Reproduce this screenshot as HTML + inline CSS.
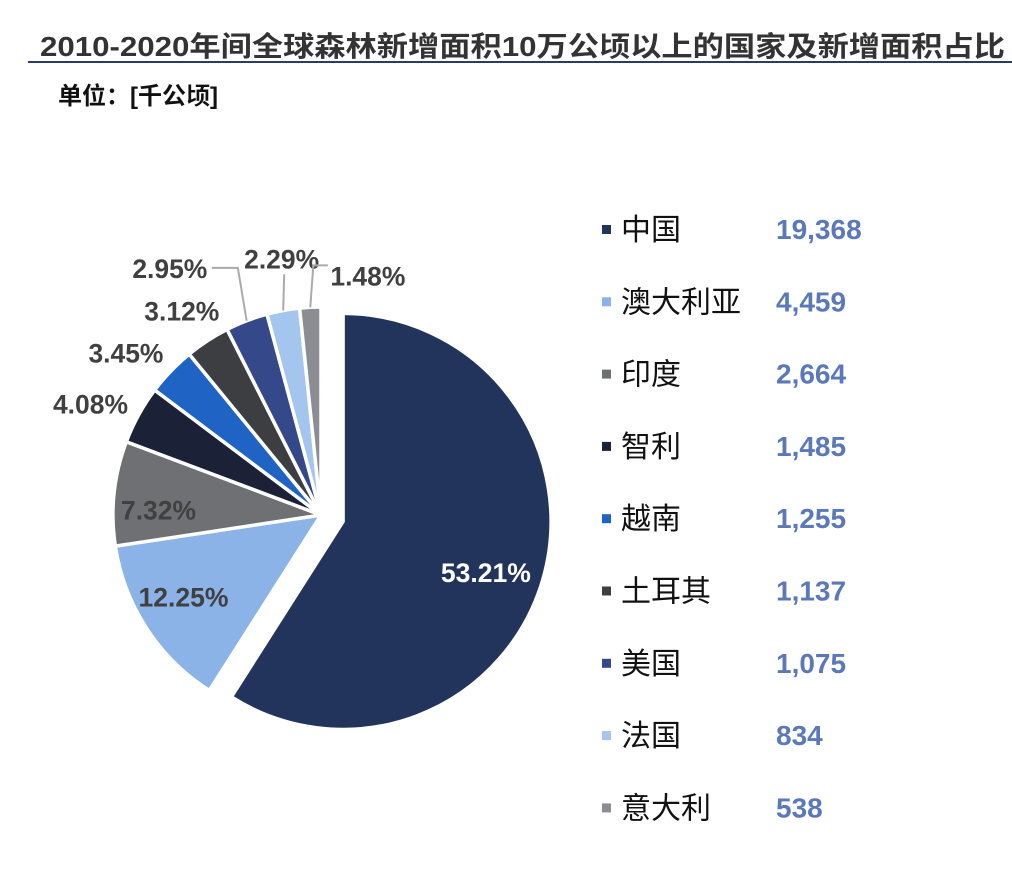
<!DOCTYPE html>
<html><head><meta charset="utf-8">
<style>
body{margin:0;background:#fff;width:1012px;height:870px;overflow:hidden;font-family:"Liberation Sans","Noto Sans CJK SC",sans-serif;}
</style></head>
<body>
<svg width="1012" height="870" style="position:absolute;left:0;top:0">
<text x="40" y="56" font-size="28" font-weight="bold" fill="#333" textLength="965" lengthAdjust="spacingAndGlyphs" font-family="Liberation Sans, Noto Sans CJK SC, sans-serif">2010-2020年间全球森林新增面积10万公顷以上的国家及新增面积占比</text>
<line x1="28" y1="62" x2="1012" y2="62" stroke="#2b3a6a" stroke-width="2"/>
<text x="58" y="104" font-size="24" font-weight="bold" fill="#111" font-family="Liberation Sans, Noto Sans CJK SC, sans-serif">单位：[千公顷]</text>
<g id="pie"></g>
<g id="legend"></g>
</svg>
<script>
const categories=["中国","澳大利亚","印度","智利","越南","土耳其","美国","法国","意大利"];
const values=[19368,4459,2664,1485,1255,1137,1075,834,538];
const percentBase=36400;
const colors=["#23345c","#8bb3e8","#6f7074","#1b2136","#1f64c4","#3d3e42","#34488a","#a3c5ee","#8c8d92"];
const NS="http://www.w3.org/2000/svg";
const pie=document.getElementById('pie'),legend=document.getElementById('legend');
const cx=321,cy=515,R=208;
const sum=values.reduce((a,b)=>a+b,0);
function pt(x0,y0,r,a){const t=a*Math.PI/180;return [x0+r*Math.sin(t),y0-r*Math.cos(t)];}
function mk(tag,attrs,parent){const e=document.createElementNS(NS,tag);for(const k in attrs)e.setAttribute(k,attrs[k]);parent.appendChild(e);return e;}
let ang=0;
values.forEach((v,i)=>{
  const sweep=v/sum*360,a0=ang,a1=ang+sweep,mid=(a0+a1)/2;ang=a1;
  let x0=cx,y0=cy;
  if(i===0){const o=pt(0,0,23,mid);x0+=o[0];y0+=o[1];}
  const p0=pt(x0,y0,R,a0),p1=pt(x0,y0,R,a1);
  const path=mk('path',{d:`M${x0},${y0}L${p0[0]},${p0[1]}A${R},${R} 0 ${sweep>180?1:0} 1 ${p1[0]},${p1[1]}Z`,fill:colors[i],stroke:'#fff','stroke-width':3.5},pie);
  
  
  const label=(v/percentBase*100).toFixed(2)+'%';
  let lx,ly,fill='#404040';
  if(i<3){const f=[0.7,0.72,0.8][i];[lx,ly]=pt(x0,y0,R*f,mid);if(i===0){fill='#fff';lx+=3;ly+=10;}if(i===1){lx-=12;}if(i===2){lx+=3;ly+=12;}}
  else{[lx,ly]=pt(cx,cy,255,mid);}
  if(i===3){lx-=7;ly+=11;}
  if(i===4){lx-=11;ly+=14;}
  if(i===5){ly+=9;}
  if(i===6){const e=pt(cx,cy,R,mid);lx-=60;ly-=9;
    const l=mk('polyline',{points:`${e[0]},${e[1]} ${lx+68},${ly} ${lx+42},${ly}`,fill:'none',stroke:'#aaa','stroke-width':2},pie);
    }
  if(i===7){const e=pt(cx,cy,R,mid);lx+=7;ly-=6;
    const l=mk('polyline',{points:`${e[0]},${e[1]} ${e[0]+1},${ly+16}`,fill:'none',stroke:'#aaa','stroke-width':2},pie);
    }
  if(i===8){const e=pt(cx,cy,R,mid);lx+=60;ly+=15;
    const l=mk('polyline',{points:`${e[0]},${e[1]} ${e[0]+3},${ly-10} ${lx-40},${ly-10}`,fill:'none',stroke:'#aaa','stroke-width':2},pie);
    }
  const t=mk('text',{x:lx,y:ly+10,'text-anchor':'middle','font-size':27,'font-weight':'bold',fill:fill,textLength:label.length*15,lengthAdjust:'spacingAndGlyphs'},pie);
  t.textContent=label;
  
  
  const ry=229+i*72.3;
  const sq=mk('rect',{x:602,y:ry-4,width:9,height:9,fill:colors[i]},legend);
  
  
  const nt=mk('text',{x:621,y:ry+11,'font-size':30,fill:'#111','font-family':'Noto Sans CJK SC, sans-serif'},legend);
  nt.textContent=categories[i];
  
  
  const vt=mk('text',{x:776,y:ry+10,'font-size':28,'font-weight':'bold',fill:'#5b78b8'},legend);
  vt.textContent=v.toLocaleString('en-US');
  
  
});
</script>
</body></html>
